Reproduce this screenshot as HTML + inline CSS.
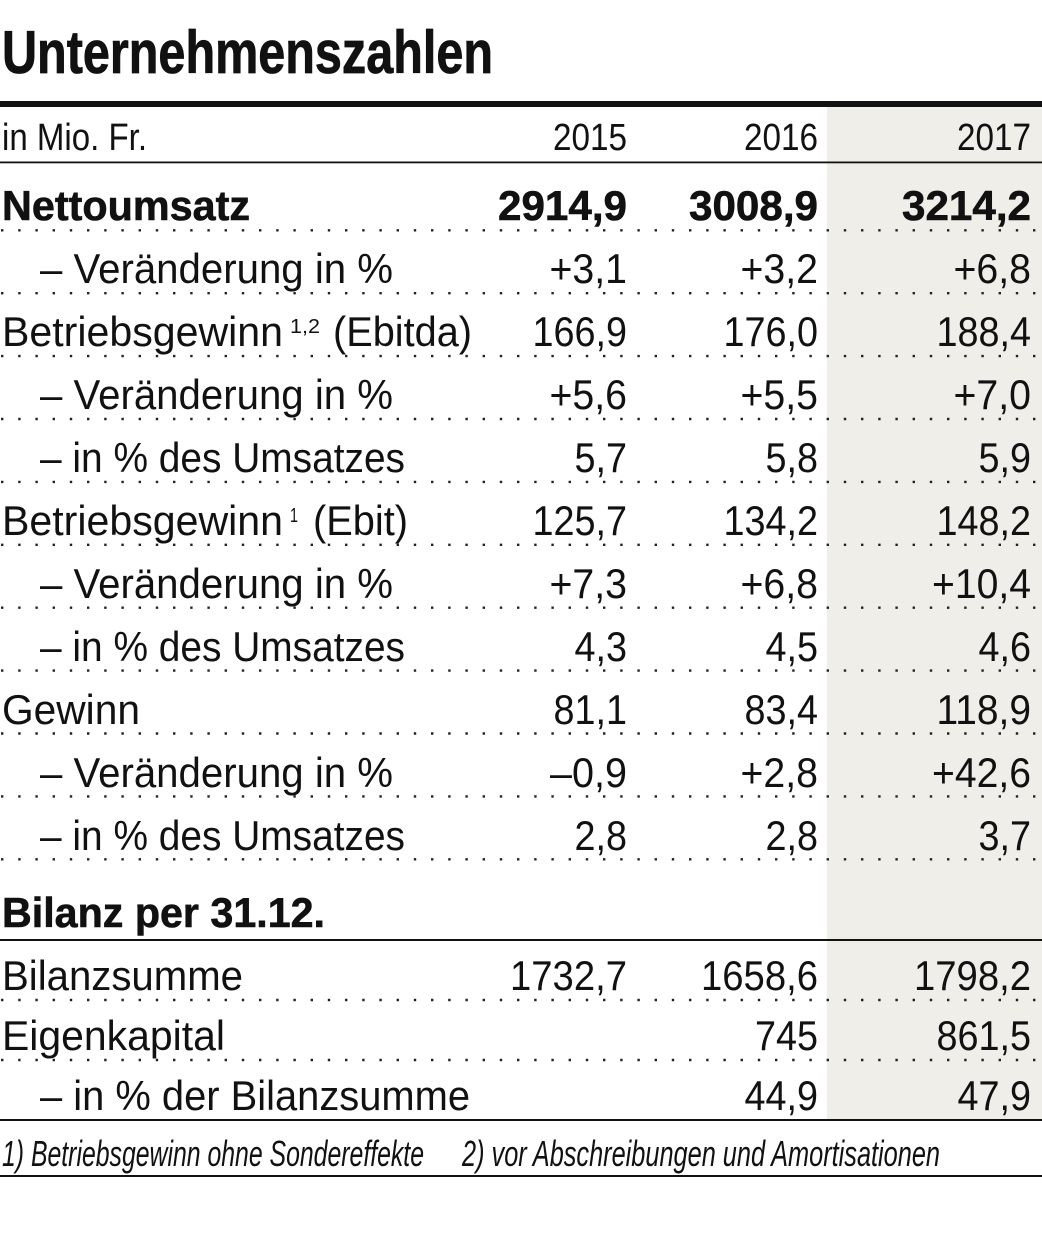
<!DOCTYPE html>
<html><head><meta charset="utf-8"><style>
html,body{margin:0;padding:0;background:#fff;}
svg{display:block;}
text{font-family:"Liberation Sans",sans-serif;fill:#111;}
.b{font-weight:bold;stroke:#111;stroke-width:0.6px;}
.r{font-size:42px;}
.h{font-size:38px;}
.n{text-anchor:end;}
</style></head><body>
<svg width="1042" height="1241" viewBox="0 0 1042 1241" xmlns="http://www.w3.org/2000/svg">
<rect x="0" y="0" width="1042" height="1241" fill="#fff"/>
<rect x="827" y="107" width="215" height="1013" fill="#efeee9"/>
<!-- title -->
<text x="2" y="73" class="b" style="font-size:60px;stroke-width:0.8px" textLength="491" lengthAdjust="spacingAndGlyphs">Unternehmenszahlen</text>
<rect x="0" y="101" width="1042" height="6" fill="#111"/>
<!-- header -->
<text x="2" y="150" class="h" textLength="145" lengthAdjust="spacingAndGlyphs">in Mio. Fr.</text>
<text x="627" y="150" class="h n" textLength="74" lengthAdjust="spacingAndGlyphs">2015</text>
<text x="818" y="150" class="h n" textLength="74" lengthAdjust="spacingAndGlyphs">2016</text>
<text x="1031" y="150" class="h n" textLength="74" lengthAdjust="spacingAndGlyphs">2017</text>
<rect x="0" y="161.5" width="1042" height="1.8" fill="#111"/>
<!-- dotted lines -->
<g stroke="#222" stroke-width="2.4" stroke-dasharray="2.4 14.8" fill="none">
<line x1="1" y1="230.3" x2="1042" y2="230.3"/>
<line x1="1" y1="293.2" x2="1042" y2="293.2"/>
<line x1="1" y1="356.1" x2="1042" y2="356.1"/>
<line x1="1" y1="419" x2="1042" y2="419"/>
<line x1="1" y1="481.9" x2="1042" y2="481.9"/>
<line x1="1" y1="544.8" x2="1042" y2="544.8"/>
<line x1="1" y1="607.7" x2="1042" y2="607.7"/>
<line x1="1" y1="670.6" x2="1042" y2="670.6"/>
<line x1="1" y1="733.5" x2="1042" y2="733.5"/>
<line x1="1" y1="796.4" x2="1042" y2="796.4"/>
<line x1="1" y1="859.3" x2="1042" y2="859.3"/>
<line x1="1" y1="1000" x2="1042" y2="1000"/>
<line x1="1" y1="1060" x2="1042" y2="1060"/>
</g>
<!-- row 0 -->
<text x="2" y="220" class="r b" textLength="248" lengthAdjust="spacingAndGlyphs">Nettoumsatz</text>
<text x="627" y="220" class="r b n" textLength="129" lengthAdjust="spacingAndGlyphs">2914,9</text>
<text x="818" y="220" class="r b n" textLength="129" lengthAdjust="spacingAndGlyphs">3008,9</text>
<text x="1031" y="220" class="r b n" textLength="129" lengthAdjust="spacingAndGlyphs">3214,2</text>
<!-- row 1 -->
<text x="40" y="283" class="r" textLength="353" lengthAdjust="spacingAndGlyphs">– Veränderung in %</text>
<text x="627" y="283" class="r n" textLength="77.5" lengthAdjust="spacingAndGlyphs">+3,1</text>
<text x="818" y="283" class="r n" textLength="77.5" lengthAdjust="spacingAndGlyphs">+3,2</text>
<text x="1031" y="283" class="r n" textLength="77.5" lengthAdjust="spacingAndGlyphs">+6,8</text>
<!-- row 2 -->
<text x="2" y="346" class="r" textLength="281" lengthAdjust="spacingAndGlyphs">Betriebsgewinn</text>
<text x="290" y="333" style="font-size:20px" textLength="30" lengthAdjust="spacingAndGlyphs">1,2</text>
<text x="333" y="346" class="r" textLength="139" lengthAdjust="spacingAndGlyphs">(Ebitda)</text>
<text x="627" y="346" class="r n" textLength="94.5" lengthAdjust="spacingAndGlyphs">166,9</text>
<text x="818" y="346" class="r n" textLength="94.5" lengthAdjust="spacingAndGlyphs">176,0</text>
<text x="1031" y="346" class="r n" textLength="94.5" lengthAdjust="spacingAndGlyphs">188,4</text>
<!-- row 3 -->
<text x="40" y="409" class="r" textLength="353" lengthAdjust="spacingAndGlyphs">– Veränderung in %</text>
<text x="627" y="409" class="r n" textLength="77.5" lengthAdjust="spacingAndGlyphs">+5,6</text>
<text x="818" y="409" class="r n" textLength="77.5" lengthAdjust="spacingAndGlyphs">+5,5</text>
<text x="1031" y="409" class="r n" textLength="77.5" lengthAdjust="spacingAndGlyphs">+7,0</text>
<!-- row 4 -->
<text x="40" y="472" class="r" textLength="365" lengthAdjust="spacingAndGlyphs">– in % des Umsatzes</text>
<text x="627" y="472" class="r n" textLength="52.5" lengthAdjust="spacingAndGlyphs">5,7</text>
<text x="818" y="472" class="r n" textLength="52.5" lengthAdjust="spacingAndGlyphs">5,8</text>
<text x="1031" y="472" class="r n" textLength="52.5" lengthAdjust="spacingAndGlyphs">5,9</text>
<!-- row 5 -->
<text x="2" y="535" class="r" textLength="281" lengthAdjust="spacingAndGlyphs">Betriebsgewinn</text>
<text x="290" y="522" style="font-size:20px" textLength="8" lengthAdjust="spacingAndGlyphs">1</text>
<text x="313" y="535" class="r" textLength="95" lengthAdjust="spacingAndGlyphs">(Ebit)</text>
<text x="627" y="535" class="r n" textLength="94.5" lengthAdjust="spacingAndGlyphs">125,7</text>
<text x="818" y="535" class="r n" textLength="94.5" lengthAdjust="spacingAndGlyphs">134,2</text>
<text x="1031" y="535" class="r n" textLength="94.5" lengthAdjust="spacingAndGlyphs">148,2</text>
<!-- row 6 -->
<text x="40" y="598" class="r" textLength="353" lengthAdjust="spacingAndGlyphs">– Veränderung in %</text>
<text x="627" y="598" class="r n" textLength="77.5" lengthAdjust="spacingAndGlyphs">+7,3</text>
<text x="818" y="598" class="r n" textLength="77.5" lengthAdjust="spacingAndGlyphs">+6,8</text>
<text x="1031" y="598" class="r n" textLength="99" lengthAdjust="spacingAndGlyphs">+10,4</text>
<!-- row 7 -->
<text x="40" y="661" class="r" textLength="365" lengthAdjust="spacingAndGlyphs">– in % des Umsatzes</text>
<text x="627" y="661" class="r n" textLength="52.5" lengthAdjust="spacingAndGlyphs">4,3</text>
<text x="818" y="661" class="r n" textLength="52.5" lengthAdjust="spacingAndGlyphs">4,5</text>
<text x="1031" y="661" class="r n" textLength="52.5" lengthAdjust="spacingAndGlyphs">4,6</text>
<!-- row 8 -->
<text x="2" y="724" class="r" textLength="138" lengthAdjust="spacingAndGlyphs">Gewinn</text>
<text x="627" y="724" class="r n" textLength="73.5" lengthAdjust="spacingAndGlyphs">81,1</text>
<text x="818" y="724" class="r n" textLength="73.5" lengthAdjust="spacingAndGlyphs">83,4</text>
<text x="1031" y="724" class="r n" textLength="94.5" lengthAdjust="spacingAndGlyphs">118,9</text>
<!-- row 9 -->
<text x="40" y="787" class="r" textLength="353" lengthAdjust="spacingAndGlyphs">– Veränderung in %</text>
<text x="627" y="787" class="r n" textLength="77" lengthAdjust="spacingAndGlyphs">–0,9</text>
<text x="818" y="787" class="r n" textLength="77.5" lengthAdjust="spacingAndGlyphs">+2,8</text>
<text x="1031" y="787" class="r n" textLength="99" lengthAdjust="spacingAndGlyphs">+42,6</text>
<!-- row 10 -->
<text x="40" y="850" class="r" textLength="365" lengthAdjust="spacingAndGlyphs">– in % des Umsatzes</text>
<text x="627" y="850" class="r n" textLength="52.5" lengthAdjust="spacingAndGlyphs">2,8</text>
<text x="818" y="850" class="r n" textLength="52.5" lengthAdjust="spacingAndGlyphs">2,8</text>
<text x="1031" y="850" class="r n" textLength="52.5" lengthAdjust="spacingAndGlyphs">3,7</text>
<!-- Bilanz -->
<text x="2" y="927" class="r b" textLength="323" lengthAdjust="spacingAndGlyphs">Bilanz per 31.12.</text>
<rect x="0" y="939" width="1042" height="2" fill="#111"/>
<text x="2" y="990" class="r" textLength="241" lengthAdjust="spacingAndGlyphs">Bilanzsumme</text>
<text x="627" y="990" class="r n" textLength="117" lengthAdjust="spacingAndGlyphs">1732,7</text>
<text x="818" y="990" class="r n" textLength="117" lengthAdjust="spacingAndGlyphs">1658,6</text>
<text x="1031" y="990" class="r n" textLength="117" lengthAdjust="spacingAndGlyphs">1798,2</text>
<text x="2" y="1050" class="r" textLength="223" lengthAdjust="spacingAndGlyphs">Eigenkapital</text>
<text x="818" y="1050" class="r n" textLength="63" lengthAdjust="spacingAndGlyphs">745</text>
<text x="1031" y="1050" class="r n" textLength="94.5" lengthAdjust="spacingAndGlyphs">861,5</text>
<text x="40" y="1110" class="r" textLength="430" lengthAdjust="spacingAndGlyphs">– in % der Bilanzsumme</text>
<text x="818" y="1110" class="r n" textLength="73.5" lengthAdjust="spacingAndGlyphs">44,9</text>
<text x="1031" y="1110" class="r n" textLength="73.5" lengthAdjust="spacingAndGlyphs">47,9</text>
<rect x="0" y="1119" width="1042" height="2" fill="#111"/>
<!-- footnotes -->
<text x="2" y="1166" style="font-size:36px;font-style:italic" textLength="422" lengthAdjust="spacingAndGlyphs">1) Betriebsgewinn ohne Sondereffekte</text>
<text x="462" y="1166" style="font-size:36px;font-style:italic" textLength="478" lengthAdjust="spacingAndGlyphs">2) vor Abschreibungen und Amortisationen</text>
<rect x="0" y="1175" width="1042" height="2" fill="#111"/>
</svg>
</body></html>
